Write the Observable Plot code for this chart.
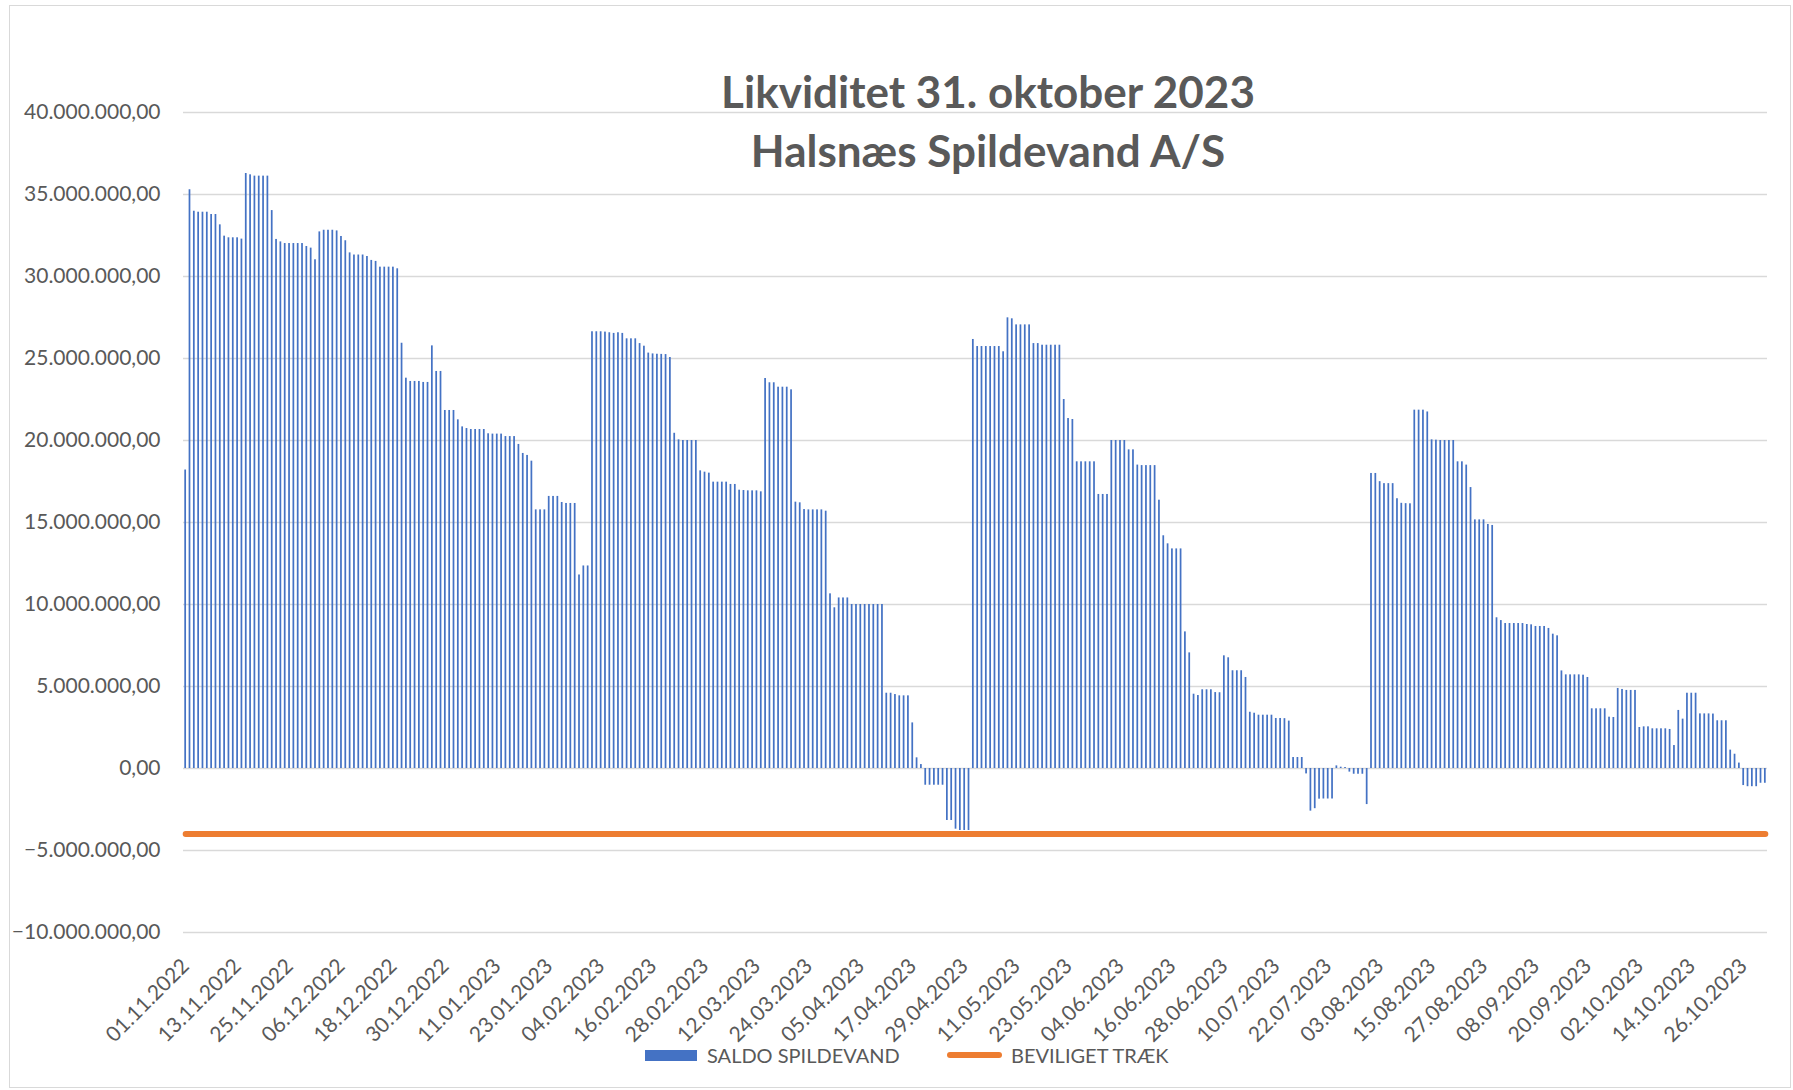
<!DOCTYPE html>
<html>
<head>
<meta charset="utf-8">
<script src="https://cdn.jsdelivr.net/npm/d3@7"></script>
<script src="https://cdn.jsdelivr.net/npm/@observablehq/plot@0.6"></script>
<style>
  body { margin: 0; background: #fff; }
  #wrap { position: relative; width: 1793px; height: 1090px; overflow: hidden; font-family: Lato, "Open Sans", sans-serif; color: #595959; }
  #frame { position: absolute; left: 9px; top: 5px; width: 1782px; height: 1083px; border: 1px solid #d9d9d9; box-sizing: border-box; }
  #chart { position: absolute; left: 0; top: 0; }
  .title { position: absolute; left: 488px; width: 1000px; text-align: center; font-weight: 700; font-size: 44px; line-height: 1; white-space: nowrap; }
  .leg { position: absolute; font-size: 20px; line-height: 1; white-space: nowrap; }
  .sw { position: absolute; }
</style>
</head>
<body>
<div id="wrap">
  <div id="frame"></div>
  <div id="chart"></div>
  <div class="title" id="t1" style="top:69px;"></div>
  <div class="title" id="t2" style="top:128px;"></div>
  <div class="sw" id="sw1" style="left:645px;top:1050px;width:52px;height:11px;background:#4472C4;"></div>
  <div class="leg" id="l1" style="left:707px;top:1045px;"></div>
  <div class="sw" id="sw2" style="left:947px;top:1052px;width:55px;height:6px;border-radius:3px;background:#ED7D31;"></div>
  <div class="leg" id="l2" style="left:1011px;top:1045px;"></div>
</div>
<script>
// ---- data ----
const titleLines = ["Likviditet 31. oktober 2023", "Halsnæs Spildevand A/S"];
const seriesNames = ["SALDO SPILDEVAND", "BEVILIGET TRÆK"];
// category labels shown on the x axis (every 12th daily category)
const tickLabels = [
  "01.11.2022", "13.11.2022", "25.11.2022", "06.12.2022", "18.12.2022", "30.12.2022",
  "11.01.2023", "23.01.2023", "04.02.2023", "16.02.2023", "28.02.2023", "12.03.2023",
  "24.03.2023", "05.04.2023", "17.04.2023", "29.04.2023", "11.05.2023", "23.05.2023",
  "04.06.2023", "16.06.2023", "28.06.2023", "10.07.2023", "22.07.2023", "03.08.2023",
  "15.08.2023", "27.08.2023", "08.09.2023", "20.09.2023", "02.10.2023", "14.10.2023",
  "26.10.2023"
];
const labelEvery = 12;
// daily balance, in million kr (one value per daily category, 01.11.2022 - 31.10.2023)
const saldoMio = [
  18.2, 35.29, 33.98, 33.92, 33.92, 33.92, 33.78, 33.78, 33.15, 32.46,
  32.36, 32.36, 32.36, 32.28, 36.28, 36.20, 36.12, 36.12, 36.12, 36.12,
  34.02, 32.26, 32.11, 32.01, 32.01, 32.01, 32.01, 32.01, 31.83, 31.73,
  31.02, 32.72, 32.82, 32.82, 32.82, 32.78, 32.44, 32.18, 31.44, 31.31,
  31.31, 31.31, 31.22, 30.98, 30.92, 30.57, 30.57, 30.57, 30.57, 30.47,
  25.93, 23.8, 23.6, 23.6, 23.6, 23.54, 23.54, 25.77, 24.21, 24.21,
  21.83, 21.83, 21.83, 21.26, 20.83, 20.73, 20.67, 20.67, 20.67, 20.67,
  20.41, 20.39, 20.39, 20.39, 20.24, 20.24, 20.24, 19.76, 19.21, 19.09,
  18.74, 15.77, 15.77, 15.77, 16.59, 16.59, 16.59, 16.22, 16.16, 16.16,
  16.16, 11.8, 12.35, 12.35, 26.63, 26.63, 26.63, 26.61, 26.57, 26.53,
  26.57, 26.53, 26.20, 26.20, 26.20, 25.91, 25.75, 25.33, 25.28, 25.26,
  25.25, 25.24, 25.06, 20.44, 20.04, 20.00, 20.00, 20.00, 20.00, 18.15,
  18.07, 18.01, 17.46, 17.46, 17.46, 17.46, 17.32, 17.32, 16.97, 16.95,
  16.93, 16.93, 16.93, 16.87, 23.78, 23.52, 23.52, 23.25, 23.25, 23.25,
  23.09, 16.24, 16.20, 15.79, 15.77, 15.77, 15.77, 15.77, 15.69, 10.65,
  9.8, 10.4, 10.4, 10.4, 10.0, 10.0, 10.0, 10.0, 10.0, 10.0,
  10.0, 10.0, 4.59, 4.59, 4.51, 4.43, 4.43, 4.43, 2.78, 0.65,
  0.24, -1.02, -1.02, -1.02, -1.02, -1.02, -3.17, -3.17, -3.70, -3.78,
  -3.78, -3.78, 26.16, 25.73, 25.73, 25.73, 25.73, 25.73, 25.73, 25.41,
  27.48, 27.42, 27.05, 27.05, 27.05, 27.05, 25.91, 25.91, 25.81, 25.81,
  25.81, 25.81, 25.81, 22.50, 21.34, 21.28, 18.70, 18.70, 18.70, 18.70,
  18.70, 16.71, 16.71, 16.71, 20.00, 20.00, 20.00, 20.00, 19.43, 19.43,
  18.50, 18.47, 18.47, 18.47, 18.47, 16.36, 14.19, 13.70, 13.39, 13.39,
  13.39, 8.33, 7.05, 4.53, 4.45, 4.80, 4.80, 4.80, 4.63, 4.62,
  6.87, 6.75, 5.96, 5.96, 5.96, 5.55, 3.43, 3.37, 3.25, 3.25,
  3.25, 3.25, 3.05, 3.05, 3.04, 2.89, 0.67, 0.67, 0.67, -0.33,
  -2.6, -2.45, -1.87, -1.86, -1.86, -1.86, 0.16, 0.08, 0.06, -0.22,
  -0.35, -0.35, -0.35, -2.2, 17.99, 17.99, 17.49, 17.37, 17.37, 17.37,
  16.45, 16.17, 16.15, 16.14, 21.85, 21.85, 21.85, 21.74, 20.04, 20.02,
  20.0, 20.0, 20.0, 20.0, 18.70, 18.70, 18.50, 17.13, 15.16, 15.16,
  15.16, 14.88, 14.82, 9.19, 9.02, 8.84, 8.84, 8.84, 8.84, 8.84,
  8.78, 8.76, 8.66, 8.66, 8.66, 8.54, 8.19, 8.09, 5.95, 5.71,
  5.71, 5.71, 5.71, 5.69, 5.55, 3.64, 3.64, 3.64, 3.64, 3.13,
  3.11, 4.88, 4.82, 4.76, 4.76, 4.76, 2.50, 2.54, 2.54, 2.42,
  2.42, 2.42, 2.42, 2.38, 1.40, 3.54, 3.01, 4.59, 4.59, 4.59,
  3.33, 3.33, 3.33, 3.32, 2.91, 2.91, 2.91, 1.12, 0.87, 0.33,
  -1.04, -1.11, -1.11, -1.11, -0.9, -0.9
];
const traekMio = -4; // granted overdraft, million kr
const yTickValues = [-10e6, -5e6, 0, 5e6, 10e6, 15e6, 20e6, 25e6, 30e6, 35e6, 40e6];

// ---- build table ----
const days = saldoMio.map((_, i) => i);
const data = days.map(i => ({ day: i, saldo: saldoMio[i] * 1e6, traek: traekMio * 1e6 }));
const xTicks = tickLabels.map((_, k) => k * labelEvery);
const da = d3.formatLocale({ decimal: ",", thousands: ".", grouping: [3], currency: ["", ""] });
const yFmt = da.format(",.2f");

document.getElementById("t1").textContent = titleLines[0];
document.getElementById("t2").textContent = titleLines[1];
document.getElementById("l1").textContent = seriesNames[0];
document.getElementById("l2").textContent = seriesNames[1];

const chart = Plot.plot({
  width: 1793,
  height: 1090,
  marginLeft: 183,
  marginRight: 26,
  marginTop: 112,
  marginBottom: 158,
  style: { fontFamily: "Lato, 'Open Sans', sans-serif", fontSize: "21px", color: "#595959", background: "transparent", overflow: "visible" },
  x: { type: "band", domain: days, paddingInner: 0.6, paddingOuter: 0.3, label: null },
  y: { domain: [-10e6, 40e6], label: null },
  marks: [
    Plot.ruleY(yTickValues, { stroke: "#d9d9d9", strokeWidth: 1.3 }),
    Plot.barY(data, { x: "day", y: "saldo", fill: "#4472C4" }),
    Plot.lineY(data, { x: "day", y: "traek", stroke: "#ED7D31", strokeWidth: 6, strokeLinecap: "round" }),
    Plot.axisY({ ticks: yTickValues, tickFormat: yFmt, tickSize: 0, tickPadding: 23, label: null, fill: "#595959" }),
    Plot.axisX({ ticks: xTicks, tickFormat: i => tickLabels[i / labelEvery], tickRotate: -45, tickSize: 0, tickPadding: 30, label: null, fill: "#595959" })
  ]
});
document.getElementById("chart").appendChild(chart);
</script>
</body>
</html>
